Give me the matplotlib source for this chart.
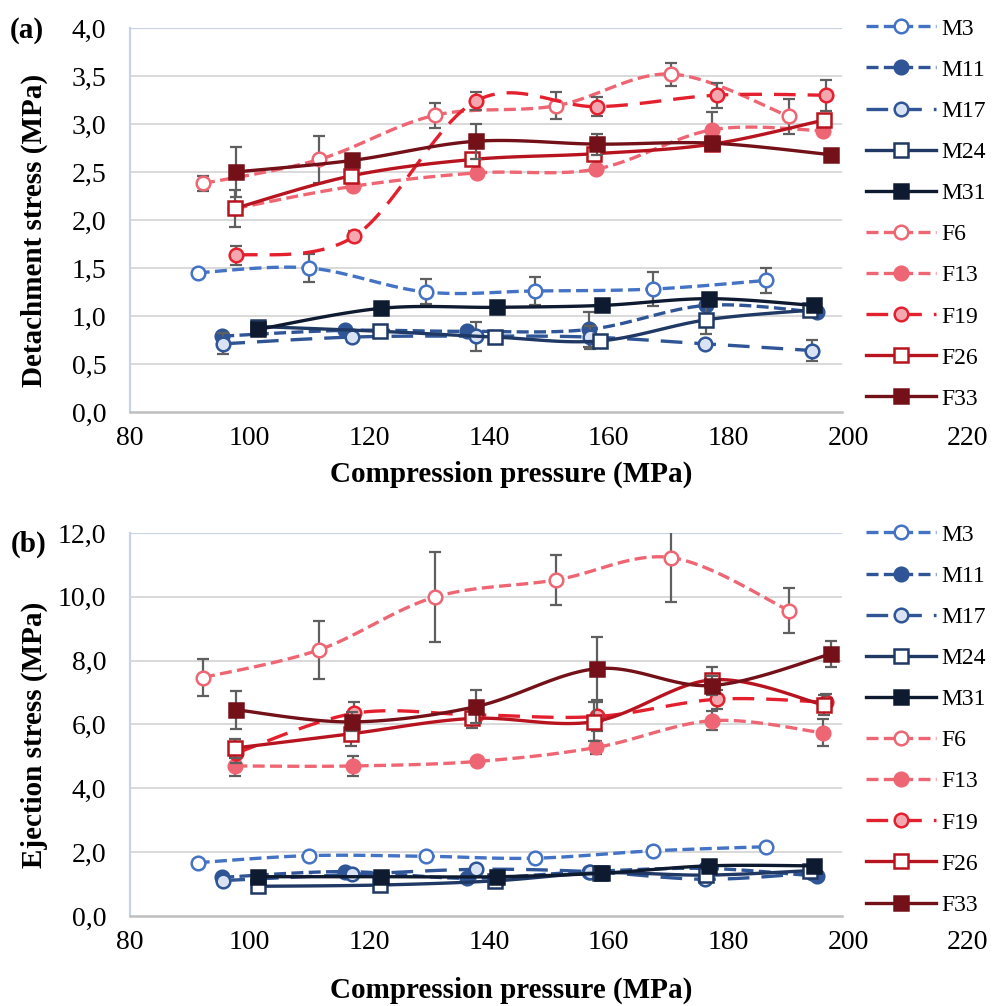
import numpy as np
import matplotlib
matplotlib.use("Agg")
import matplotlib.pyplot as plt
from matplotlib.lines import Line2D

plt.rcParams['font.family'] = ['Liberation Serif', 'DejaVu Serif']

# ---- data ----
series = ['M3', 'M11', 'M17', 'M24', 'M31', 'F6', 'F13', 'F19', 'F26', 'F33']

# compression pressure (MPa) per formulation
x_M3 = [91.3, 109.9, 129.4, 147.6, 167.3, 186.3]
x_M11 = [95.4, 115.9, 136.3, 156.7, 176.2, 194.7]
x_M17 = [95.6, 117.1, 137.8, 156.8, 176.0, 193.9]
x_M24 = [101.4, 121.8, 140.9, 158.5, 176.3, 193.6]
x_M31 = [101.4, 122.0, 141.3, 158.9, 176.7, 194.2]
x_F6 = [92.2, 111.6, 130.9, 151.2, 170.4, 190.1]
x_F13 = [97.6, 117.2, 137.9, 157.9, 177.3, 195.7]
x_F19 = [97.7, 117.5, 137.8, 158.1, 178.0, 196.2]
x_F26 = [97.5, 117.0, 137.2, 157.6, 177.3, 195.9]
x_F33 = [97.7, 117.1, 137.8, 158.1, 177.2, 197.1]

# (a) detachment stress (MPa) and standard deviations
det_M3 = [1.45, 1.50, 1.25, 1.26, 1.28, 1.37]
det_M11 = [0.79, 0.85, 0.84, 0.86, 1.11, 1.04]
det_M17 = [0.71, 0.78, 0.79, 0.78, 0.71, 0.64]
det_M24 = [0.89, 0.84, 0.78, 0.74, 0.96, 1.06]
det_M31 = [0.86, 1.08, 1.09, 1.11, 1.18, 1.11]
det_F6 = [2.38, 2.63, 3.09, 3.19, 3.52, 3.08]
det_F13 = [2.12, 2.35, 2.49, 2.53, 2.94, 2.93]
det_F19 = [1.63, 1.83, 3.24, 3.18, 3.30, 3.30]
det_F26 = [2.12, 2.46, 2.63, 2.69, 2.79, 3.04]
det_F33 = [2.50, 2.62, 2.82, 2.79, 2.80, 2.68]

det_sd_M3 = [0.03, 0.15, 0.13, 0.15, 0.18, 0.13]
det_sd_M11 = [0.03, 0.03, 0.03, 0.18, 0.04, 0.03]
det_sd_M17 = [0.11, 0.05, 0.15, 0.12, 0.03, 0.11]
det_sd_M24 = [0.03, 0.03, 0.03, 0.03, 0.15, 0.03]
det_sd_M31 = [0.03, 0.03, 0.03, 0.03, 0.03, 0.03]
det_sd_F6 = [0.08, 0.24, 0.13, 0.14, 0.12, 0.18]
det_sd_F13 = [0.05, 0.04, 0.04, 0.04, 0.18, 0.04]
det_sd_F19 = [0.10, 0.05, 0.09, 0.10, 0.13, 0.16]
det_sd_F26 = [0.19, 0.04, 0.05, 0.04, 0.04, 0.05]
det_sd_F33 = [0.26, 0.04, 0.18, 0.11, 0.04, 0.03]

# (b) ejection stress (MPa) and standard deviations
ej_M3 = [1.67, 1.89, 1.87, 1.81, 2.04, 2.17]
ej_M11 = [1.21, 1.39, 1.18, 1.39, 1.49, 1.25]
ej_M17 = [1.11, 1.30, 1.46, 1.39, 1.15, 1.34]
ej_M24 = [0.93, 0.97, 1.10, 1.35, 1.28, 1.42]
ej_M31 = [1.23, 1.23, 1.23, 1.34, 1.57, 1.57]
ej_F6 = [7.47, 8.34, 9.99, 10.53, 11.23, 9.57]
ej_F13 = [4.70, 4.70, 4.84, 5.28, 6.12, 5.74]
ej_F19 = [5.10, 6.35, 6.30, 6.25, 6.79, 6.70]
ej_F26 = [5.26, 5.71, 6.19, 6.09, 7.40, 6.61]
ej_F33 = [6.46, 6.08, 6.56, 7.75, 7.22, 8.21]

ej_sd_M3 = [0.05, 0.05, 0.05, 0.10, 0.12, 0.05]
ej_sd_M11 = [0.05, 0.05, 0.05, 0.05, 0.05, 0.05]
ej_sd_M17 = [0.05, 0.05, 0.05, 0.05, 0.05, 0.05]
ej_sd_M24 = [0.05, 0.05, 0.05, 0.05, 0.05, 0.05]
ej_sd_M31 = [0.05, 0.05, 0.08, 0.05, 0.10, 0.08]
ej_sd_F6 = [0.59, 0.90, 1.41, 0.79, 1.38, 0.70]
ej_sd_F13 = [0.33, 0.30, 0.10, 0.20, 0.30, 0.42]
ej_sd_F19 = [0.30, 0.35, 0.20, 0.45, 0.30, 0.25]
ej_sd_F26 = [0.30, 0.40, 0.30, 0.60, 0.40, 0.30]
ej_sd_F33 = [0.60, 0.30, 0.52, 0.98, 0.30, 0.40]

x_data = [x_M3, x_M11, x_M17, x_M24, x_M31, x_F6, x_F13, x_F19, x_F26, x_F33]
det_data = [det_M3, det_M11, det_M17, det_M24, det_M31, det_F6, det_F13, det_F19, det_F26, det_F33]
det_sd = [det_sd_M3, det_sd_M11, det_sd_M17, det_sd_M24, det_sd_M31,
          det_sd_F6, det_sd_F13, det_sd_F19, det_sd_F26, det_sd_F33]
ej_data = [ej_M3, ej_M11, ej_M17, ej_M24, ej_M31, ej_F6, ej_F13, ej_F19, ej_F26, ej_F33]
ej_sd = [ej_sd_M3, ej_sd_M11, ej_sd_M17, ej_sd_M24, ej_sd_M31,
         ej_sd_F6, ej_sd_F13, ej_sd_F19, ej_sd_F26, ej_sd_F33]

# ---- styles ----
SHORT = (3.6, 1.6)
LONG = (6.5, 3.6)
styles = {
    'M3':  dict(color='#4472C4', dash=SHORT, marker='o', mfc='white',   mec='#4472C4'),
    'M11': dict(color='#2F5597', dash=SHORT, marker='o', mfc='#2F5597', mec='#2F5597'),
    'M17': dict(color='#2F5597', dash=LONG,  marker='o', mfc='#DAE3F3', mec='#2F5597'),
    'M24': dict(color='#203864', dash=None,  marker='s', mfc='white',   mec='#203864'),
    'M31': dict(color='#0E1A30', dash=None,  marker='s', mfc='#0E1A30', mec='#0E1A30'),
    'F6':  dict(color='#EE6673', dash=SHORT, marker='o', mfc='white',   mec='#EE6673'),
    'F13': dict(color='#EE6673', dash=SHORT, marker='o', mfc='#EE6673', mec='#EE6673'),
    'F19': dict(color='#E5202E', dash=LONG,  marker='o', mfc='#F4A7AE', mec='#E5202E'),
    'F26': dict(color='#B8141F', dash=None,  marker='s', mfc='white',   mec='#B8141F'),
    'F33': dict(color='#731018', dash=None,  marker='s', mfc='#731018', mec='#731018'),
}
LW = 2.4
MS = 9.8


def excel_smooth(x, y, steps=25):
    """Bezier smoothing like Excel's 'smoothed line'."""
    p = np.column_stack([x, y]).astype(float)
    n = len(p)
    out = [p[0]]
    t = np.linspace(0, 1, steps)[1:, None]
    for i in range(n - 1):
        p0 = p[i - 1] if i > 0 else p[i]
        p1, p2 = p[i], p[i + 1]
        p3 = p[i + 2] if i + 2 < n else p[i + 1]
        c1 = p1 + (p2 - p0) / 6
        c2 = p2 - (p3 - p1) / 6
        seg = (1 - t) ** 3 * p1 + 3 * (1 - t) ** 2 * t * c1 + 3 * (1 - t) * t ** 2 * c2 + t ** 3 * p2
        out.extend(seg)
    out = np.array(out)
    return out[:, 0], out[:, 1]


def draw_panel(ax, ys, sds, ymax, ystep, ylabel, xlab_y):
    xend = 198.9
    for k, name in enumerate(series):
        st = styles[name]
        z = 3 + k * 0.1
        ax.errorbar(x_data[k], ys[k], yerr=sds[k], fmt='none', ecolor='#5F5F5F',
                    elinewidth=1.6, capsize=4.5, capthick=1.6, zorder=z)
        sx, sy = excel_smooth(x_data[k], ys[k])
        line, = ax.plot(sx, sy, color=st['color'], lw=LW, zorder=z + 0.01,
                        solid_capstyle='butt', dash_capstyle='butt')
        if st['dash']:
            line.set_dashes(st['dash'])
        ax.plot(x_data[k], ys[k], ls='none', marker=st['marker'], ms=MS,
                mfc=st['mfc'], mec=st['mec'], mew=1.8, zorder=z + 0.02)

    yt = np.arange(0, ymax + 1e-9, ystep)
    ax.hlines(yt[1:-1], 80, xend, color='#D9D9D9', lw=1.4, zorder=1)
    ax.hlines([ymax], 80, xend, color='#C9D2E6', lw=1.6, zorder=1)
    ax.set_xlim(80, 220)
    ax.set_ylim(0, ymax)
    ax.set_yticks(yt)
    ax.set_yticklabels([f'{v:.1f}'.replace('.', ',') for v in yt])
    xt = np.arange(80, 221, 20)
    ax.set_xticks(xt)
    ax.set_xticklabels([str(v) for v in xt])
    ax.tick_params(axis='both', length=0, labelsize=20)
    ax.tick_params(axis='y', pad=17)
    ax.tick_params(axis='x', pad=10)
    for s in ['top', 'right']:
        ax.spines[s].set_visible(False)
    ax.spines['left'].set_color('#C9D2E6')
    ax.spines['left'].set_linewidth(1.6)
    ax.spines['bottom'].set_color('#BFBFBF')
    ax.spines['bottom'].set_linewidth(1.8)
    ax.spines['bottom'].set_bounds(80, xend)
    ax.set_ylabel(ylabel, fontsize=21, fontweight='bold')
    ax.yaxis.set_label_coords(-0.098, 0.473)
    ax.set_xlabel('Compression pressure (MPa)', fontsize=21, fontweight='bold')
    ax.xaxis.set_label_coords(0.455, xlab_y)


def legend_handles():
    hs = []
    for name in series:
        st = styles[name]
        h = Line2D([], [], color=st['color'], lw=LW, marker=st['marker'], ms=MS,
                   mfc=st['mfc'], mec=st['mec'], mew=1.8, label=name,
                   dash_capstyle='butt')
        if st['dash']:
            h.set_dashes(st['dash'])
        hs.append(h)
    return hs


fig = plt.figure(figsize=(10, 10.06), dpi=100)
ax1 = fig.add_axes([0.130, 0.5905, 0.838, 0.3817])
ax2 = fig.add_axes([0.130, 0.0895, 0.838, 0.3807])

draw_panel(ax1, det_data, det_sd, 4.0, 0.5, 'Detachment stress (MPa)', -0.128)
draw_panel(ax2, ej_data, ej_sd, 12.0, 2.0, 'Ejection stress (MPa)', -0.158)

for ax, top in [(ax1, 0.982), (ax2, 0.479)]:
    fig.legend(handles=legend_handles(), loc='upper left', bbox_to_anchor=(0.866, top),
               frameon=False, fontsize=17, handlelength=2.95, handletextpad=0.25,
               labelspacing=0.83, borderaxespad=0, borderpad=0, numpoints=1)

fig.text(0.027, 1 - 31 / 1006, '(a)', fontsize=21, fontweight='bold', ha='center', va='center')
fig.text(0.029, 1 - 544 / 1006, '(b)', fontsize=21, fontweight='bold', ha='center', va='center')

fig.savefig('out.png', dpi=100, facecolor='white')
